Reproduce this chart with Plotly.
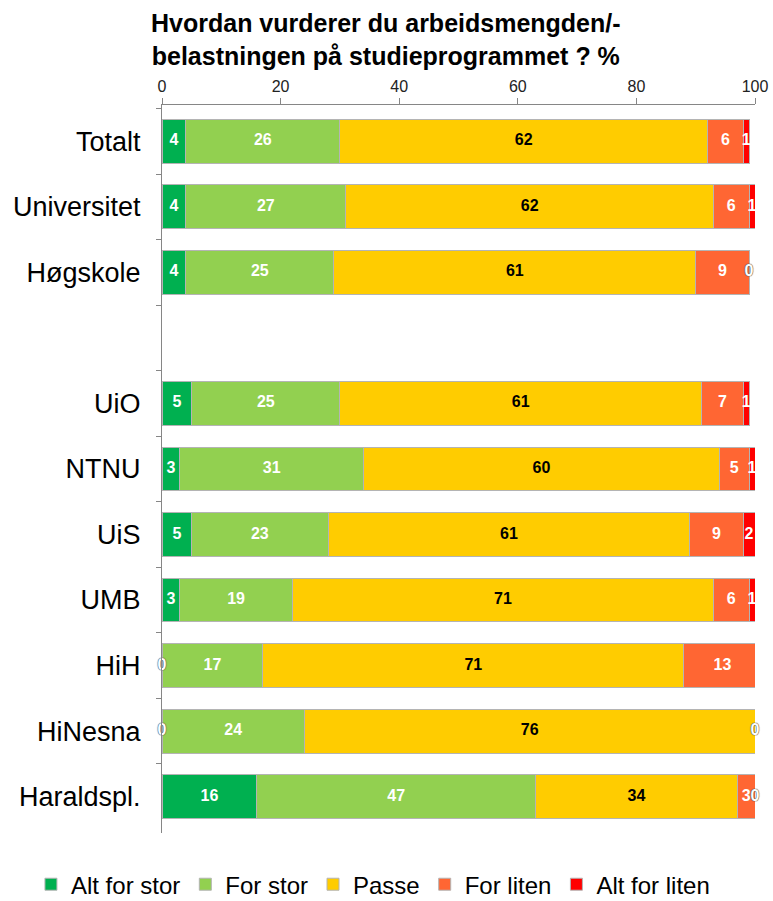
import plotly.graph_objects as go

categories = ["Totalt", "Universitet", "Høgskole", " ", "UiO", "NTNU", "UiS", "UMB", "HiH", "HiNesna", "Haraldspl."]
series_names = ["Alt for stor", "For stor", "Passe", "For liten", "Alt for liten"]
alt_for_stor = [4, 4, 4, None, 5, 3, 5, 3, 0, 0, 16]
for_stor = [26, 27, 25, None, 25, 31, 23, 19, 17, 24, 47]
passe = [62, 62, 61, None, 61, 60, 61, 71, 71, 76, 34]
for_liten = [6, 6, 9, None, 7, 5, 9, 6, 13, None, 3]
alt_for_liten = [1, 1, 0, None, 1, 1, 2, 1, None, 0, 0]
x_ticks = [0, 20, 40, 60, 80, 100]
title_text = "<b>Hvordan vurderer du arbeidsmengden/-<br>belastningen på studieprogrammet ? %</b>"

series = [alt_for_stor, for_stor, passe, for_liten, alt_for_liten]
colors = ["#00B050", "#92D050", "#FFCC00", "#FF6633", "#FF0000"]
label_colors = ["white", "white", "black", "white", "white"]
FONT = "Liberation Sans, Arial, sans-serif"

fig = go.Figure()
for name, vals, col in zip(series_names, series, colors):
    fig.add_trace(go.Bar(
        y=categories, x=vals, name=name,
        orientation="h", marker=dict(color=col, line=dict(color="#b4b4b4", width=1)),
        hoverinfo="skip",
    ))

# labels at segment centres
cum = [0.0] * len(categories)
for vals, lc in zip(series, label_colors):
    xs, ys, ts, zx, zy = [], [], [], [], []
    for i, v in enumerate(vals):
        if v is None:
            continue
        mid = cum[i] + v / 2.0
        if v == 0:
            zx.append(mid); zy.append(categories[i])
        else:
            xs.append(mid); ys.append(categories[i]); ts.append(str(v))
        cum[i] += v
    fig.add_trace(go.Scatter(
        x=xs, y=ys, text=ts, mode="text", showlegend=False, hoverinfo="skip",
        cliponaxis=False,
        textfont=dict(family=FONT, size=16, color=lc, weight="bold"),
    ))
    if zx:
        fig.add_trace(go.Scatter(
            x=zx, y=zy, text=["0"] * len(zx), mode="text", showlegend=False, hoverinfo="skip",
            cliponaxis=False,
            textfont=dict(family=FONT, size=16, color="white", weight="bold",
                          shadow="0 0 1px #555, 0 0 1px #555, 0 0 1px #555"),
        ))

fig.add_annotation(
    text=title_text, xref="paper", yref="paper", x=0.378, y=1.135,
    xanchor="center", yanchor="top", showarrow=False, align="center",
    font=dict(family=FONT, size=25, color="black"),
)

fig.update_layout(
    width=773, height=901,
    barmode="stack", bargap=0.33,
    plot_bgcolor="white", paper_bgcolor="white",
    margin=dict(l=162, r=18, t=105, b=68, autoexpand=False),
    xaxis=dict(
        side="top", range=[0, 100], tickvals=x_ticks, ticktext=[str(t) for t in x_ticks],
        showgrid=False, zeroline=False, showline=True, linecolor="#868686", linewidth=1,
        ticks="outside", ticklen=6, tickcolor="#868686", automargin=False,
        tickfont=dict(family=FONT, size=16, color="#222"), ticklabeloverflow="allow",
    ),
    yaxis=dict(
        categoryorder="array", categoryarray=categories, autorange="reversed",
        showgrid=False, zeroline=False, showline=True, linecolor="#868686", linewidth=1,
        ticks="outside", ticklen=5, tickcolor="#868686", tickson="boundaries",
        tickfont=dict(family=FONT, size=27, color="black"), automargin=False,
        ticklabelstandoff=15,
    ),
    legend=dict(
        orientation="h", x=-0.221, xref="paper", xanchor="left",
        y=-0.04, yref="paper", yanchor="top",
        font=dict(family=FONT, size=24, color="black"),
        itemwidth=30, traceorder="normal",
    ),
    showlegend=True,
)

fig.write_html(
    "out.html",
    config={"displayModeBar": False},
    post_script="document.body.style.margin='0';document.body.style.overflow='hidden';",
)
